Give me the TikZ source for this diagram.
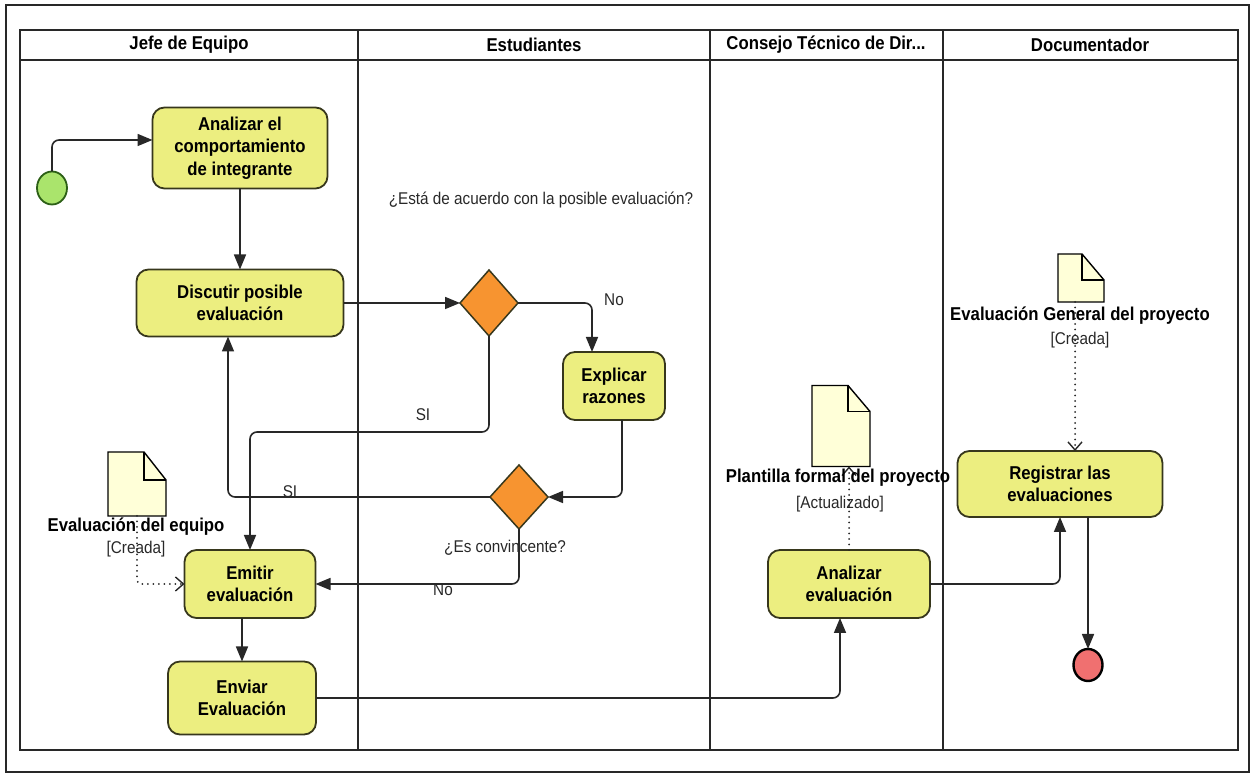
\documentclass[tikz,border=0pt]{standalone}
\usepackage{fontspec}
\setmainfont{Liberation Sans}[FakeStretch=0.9]
\usepackage{xcolor}
\usetikzlibrary{arrows.meta,positioning,shapes.geometric,calc}

\definecolor{actfill}{RGB}{236,238,128}
\definecolor{actline}{RGB}{55,55,28}
\definecolor{decfill}{RGB}{247,148,48}
\definecolor{startfill}{RGB}{170,228,108}
\definecolor{endfill}{RGB}{240,112,112}
\definecolor{docfill}{RGB}{255,255,216}
\definecolor{wire}{RGB}{40,40,40}
\definecolor{labelgray}{RGB}{40,40,40}

% folded sheet drawn over an empty node: name, fold width, fold height
\newcommand{\docoutline}[3]{%
  \draw[docline, fill=docfill] (#1.south west) -- (#1.north west)
    -- ([xshift=-#2]#1.north east) -- ([yshift=-#3]#1.north east)
    -- (#1.south east) -- cycle;
  \draw[docline] ([xshift=-#2]#1.north east) |- ([yshift=-#3]#1.north east);
}

\begin{document}
\begin{tikzpicture}[
  x=1pt, y=1pt,
  frame/.style={draw=wire, line width=1.5pt},
  lanehead/.style={font=\fontsize{18.6}{20}\selectfont\bfseries},
  act/.style={draw=actline, line width=1.8pt, fill=actfill, rounded corners=12pt,
    align=center, inner sep=2pt, font=\fontsize{18.6}{22.5}\selectfont\bfseries},
  decision/.style={diamond, draw=actline, line width=1.5pt, fill=decfill,
    minimum width=58pt, minimum height=66pt, inner sep=0pt},
  initial/.style={ellipse, draw=actline!80!green, line width=1.8pt, fill=startfill,
    minimum width=30pt, minimum height=33pt, inner sep=0pt},
  final/.style={ellipse, draw=black, line width=2.4pt, fill=endfill,
    minimum width=29pt, minimum height=32pt, inner sep=0pt},
  docbox/.style={inner sep=0pt},
  docline/.style={draw=black, line width=1.4pt, line join=miter},
  doctitle/.style={font=\fontsize{18.6}{20}\selectfont\bfseries, inner sep=1pt},
  docstate/.style={font=\fontsize{17}{18}\selectfont, text=labelgray, inner sep=1pt},
  guard/.style={font=\fontsize{17}{18}\selectfont, text=labelgray, inner sep=1pt},
  flow/.style={draw=wire, line width=1.6pt, rounded corners=7pt,
    -{Triangle[length=15pt,width=12pt]}},
  objflow/.style={draw=wire, line width=2pt, line cap=round,
    dash pattern=on 0pt off 5.5pt, rounded corners=4pt,
    -{Straight Barb[length=8pt,width=14pt,line width=1.4pt]}},
  every node/.style={outer sep=0pt}
]
  \useasboundingbox (0,0) rectangle (1252,775);

  % Frame and swimlanes
  \draw[frame] (6,3) rectangle (1249,770);
  \draw[frame] (20,25) rectangle (1238,745);
  \draw[frame] (20,715) -- (1238,715);
  \foreach \x in {358,710,943}
    \draw[frame] (\x,25) -- (\x,745);

  \node[lanehead] (hjefe) at (189,730) {Jefe de Equipo};
  \node[lanehead] (hest)  at (534,730) {Estudiantes};
  \node[lanehead] (hcons) at (826,730) {Consejo Técnico de Dir...};
  \node[lanehead] (hdoc)  at (1090,730) {Documentador};

  % Jefe de Equipo
  \node[initial] (start) at (52,587) {};
  \node[act, minimum width=175pt, minimum height=81pt] (analizar) at (240,627)
    {Analizar el\\comportamiento\\de integrante};
  \node[act, minimum width=207pt, minimum height=67pt] (discutir) at (240,472)
    {Discutir posible\\evaluación};
  \node[act, minimum width=131pt, minimum height=68pt] (emitir) at (250,191)
    {Emitir\\evaluación};
  \node[act, minimum width=148pt, minimum height=73pt] (enviar) at (242,77)
    {Enviar\\Evaluación};

  % Estudiantes
  \node[decision] (acuerdo) at (489,472) {};
  \node[decision, minimum height=64pt] (convence) at (519,278) {};
  \node[act, minimum width=102pt, minimum height=68pt] (explicar) at (614,389)
    {Explicar\\razones};

  % Consejo and Documentador
  \node[act, minimum width=162pt, minimum height=68pt] (evaluar) at (849,191)
    {Analizar\\evaluación};
  \node[act, minimum width=205pt, minimum height=66pt] (registrar) at (1060,291)
    {Registrar las\\evaluaciones};
  \node[final] (fin) at (1088,110) {};

  % Objects
  \node[docbox, minimum width=58pt, minimum height=64pt] (docequipo) at (137,291) {};
  \node[docbox, minimum width=58pt, minimum height=81pt] (docplantilla) at (841,349) {};
  \node[docbox, minimum width=46pt, minimum height=48pt] (docgeneral) at (1081,497) {};
  \docoutline{docequipo}{22pt}{28pt}
  \docoutline{docplantilla}{22pt}{26pt}
  \docoutline{docgeneral}{22pt}{26pt}

  % Object flows
  \draw[objflow] (docequipo.south) |- (emitir.west);
  \draw[objflow] (evaluar.north) -- (evaluar.north |- docplantilla.south);
  \draw[objflow] ([xshift=-6pt]docgeneral.south) -- ([xshift=-6pt]docgeneral.south |- registrar.north);

  \node[doctitle] (tequipo) at (136,248) {Evaluación del equipo};
  \node[docstate] (sequipo) at (136,226) {[Creada]};
  \node[doctitle] (tplantilla) at (838,297) {Plantilla formal del proyecto};
  \node[docstate] (splantilla) at (840,271) {[Actualizado]};
  \node[doctitle] (tgeneral) at (1080,459) {Evaluación General del proyecto};
  \node[docstate] (sgeneral) at (1080,435) {[Creada]};

  % Control flows
  \draw[flow] (start.north) |- ([yshift=8pt]analizar.west);
  \draw[flow] (analizar.south) -- (discutir.north);
  \draw[flow] (discutir.east) -- (acuerdo.west);
  \draw[flow] (acuerdo.east) -| ([xshift=-22pt]explicar.north);
  \draw[flow] ([xshift=8pt]explicar.south) |- (convence.east);
  \draw[flow] (convence.west) -| ([xshift=-12pt]discutir.south);
  \coordinate (acuerdosi) at (489,343);
  \draw[flow] (acuerdo.south) -- (acuerdosi) -| (emitir.north);
  \draw[flow] (convence.south) |- (emitir.east);
  \draw[flow] (emitir.south -| enviar.north) -- (enviar.north);
  \draw[flow] (enviar.east) -| ([xshift=-9pt]evaluar.south);
  \draw[flow] (evaluar.east) -| (registrar.south);
  \draw[flow] (registrar.south -| fin.north) -- (fin.north);

  % Guards and questions
  \node[guard] (qacuerdo) at (541,575) {¿Está de acuerdo con la posible evaluación?};
  \node[guard] (gno1) at (614,475) {No};
  \node[guard] (gsi1) at (423,360) {SI};
  \node[guard] (gsi2) at (290,283) {SI};
  \node[guard] (qconvence) at (505,227) {¿Es convincente?};
  \node[guard] (gno2) at (443,185) {No};
\end{tikzpicture}
\end{document}
